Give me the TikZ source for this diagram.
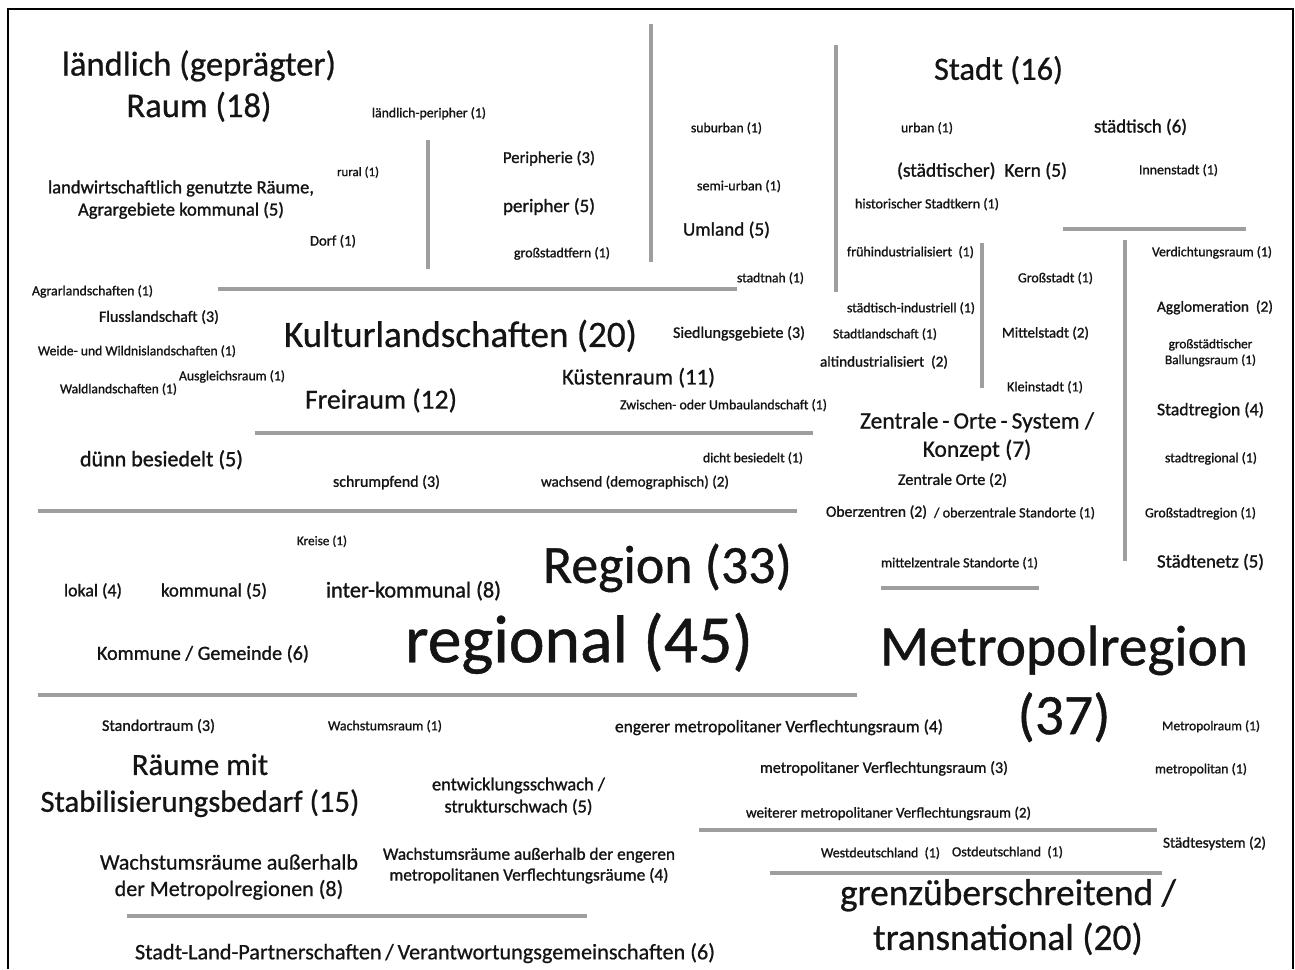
\documentclass[tikz,border=0pt]{standalone}
\usepackage{fontspec}
\setmainfont{Carlito}[FakeBold=0.7]
\newfontfamily\heavyface{Carlito}[FakeBold=1.2]
\usepackage{graphicx}
\definecolor{sepgray}{gray}{0.62}
\definecolor{ink}{gray}{0.08}
% term set to a given width (in px of the reference)
\newcommand{\fitw}[2]{\resizebox{#1pt}{!}{\fontsize{10}{12}\selectfont
  \begin{tabular}{@{}c@{}}#2\end{tabular}}}
% same, for the smaller (heavier looking) terms
\newcommand{\fitb}[2]{\resizebox{#1pt}{!}{\heavyface\fontsize{10}{12}\selectfont
  \begin{tabular}{@{}c@{}}#2\end{tabular}}}

\begin{document}
\begin{tikzpicture}[
    x=1pt, y=-1pt,
    term/.style={inner sep=0pt, outer sep=0pt, text=ink},
    sepline/.style={draw=sepgray, line width=3.5pt},
    frame/.style={draw=black, line width=2pt},
]
\useasboundingbox (0,0) rectangle (1295,969);
\fill[white] (0,0) rectangle (1295,969);
\draw[frame] (8,969) |- (1293,9) -- (1293,969);

% ---------------- separator lines ----------------------------------------
\draw[sepline] (428,140) -- (428,269);
\draw[sepline] (651,24) -- (651,262);
\draw[sepline] (836,45) -- (836,292);
\draw[sepline] (1063,229) -- (1246,229);
\draw[sepline] (982,243) -- (982,388);
\draw[sepline] (1125,240) -- (1125,561);
\draw[sepline] (218,289) -- (737,289);
\draw[sepline] (255,433) -- (813,433);
\draw[sepline] (38,511) -- (797,511);
\draw[sepline] (881,588) -- (1039,588);
\draw[sepline] (38,695) -- (857,695);
\draw[sepline] (699,830) -- (1157,830);
\draw[sepline] (770,873) -- (1162,873);
\draw[sepline] (127,916) -- (587,916);

% ---------------- rural / peripheral --------------------------------------
\node[term] (laendlich)  at (199,88)    {\fitw{274}{ländlich (geprägter)\\Raum (18)}};
\node[term] (lperipher)  at (429,114)   {\fitb{114}{ländlich-peripher (1)}};
\node[term] (rural)      at (358,173)   {\fitb{42}{rural (1)}};
\node[term] (agrar)      at (181,200)   {\fitb{266}{landwirtschaftlich genutzte Räume,\\Agrargebiete kommunal (5)}};
\node[term] (dorf)       at (333,242)   {\fitb{46}{Dorf (1)}};
\node[term] (peripherie) at (549,159)   {\fitb{92}{Peripherie (3)}};
\node[term] (peripher)   at (549,207.5) {\fitb{92}{peripher (5)}};
\node[term] (grossfern)  at (562,254)   {\fitb{96}{großstadtfern (1)}};
\node[term] (suburban)   at (726.5,129) {\fitb{71}{suburban (1)}};
\node[term] (semiurban)  at (739,187)   {\fitb{84}{semi-urban (1)}};
\node[term] (umland)     at (726.5,231) {\fitb{87}{Umland (5)}};
\node[term] (stadtnah)   at (770.5,279) {\fitb{67}{stadtnah (1)}};

% ---------------- city ----------------------------------------------------
\node[term] (stadt)      at (998.5,72)   {\fitw{129}{Stadt (16)}};
\node[term] (urban)      at (927,129)    {\fitb{52}{urban (1)}};
\node[term] (staedtisch) at (1140.5,128) {\fitb{93}{städtisch (6)}};
\node[term] (kern)       at (982,172)    {\fitb{170}{(städtischer)\ \ Kern (5)}};
\node[term] (innenstadt) at (1178.5,171) {\fitb{79}{Innenstadt (1)}};
\node[term] (histkern)   at (927,205)    {\fitb{144}{historischer Stadtkern (1)}};
\node[term] (fruehind)   at (910.5,253)  {\fitb{127}{frühindustrialisiert\ \ (1)}};
\node[term] (verdicht)   at (1212,253)   {\fitb{120}{Verdichtungsraum (1)}};
\node[term] (grossstadt) at (1055.5,279) {\fitb{75}{Großstadt (1)}};
\node[term] (staedtind)  at (911,309)    {\fitb{128}{städtisch-industriell (1)}};
\node[term] (agglo)      at (1215,308)   {\fitb{116}{Agglomeration\ \ (2)}};
\node[term] (stadtland)  at (885,335)    {\fitb{104}{Stadtlandschaft (1)}};
\node[term] (mittelstadt) at (1045.5,334) {\fitb{87}{Mittelstadt (2)}};
\node[term] (ballung)    at (1210.5,353) {\fitb{91}{großstädtischer\\Ballungsraum (1)}};
\node[term] (altind)     at (884,363)    {\fitb{128}{altindustrialisiert\ \ (2)}};
\node[term] (kleinstadt) at (1045,388)   {\fitb{76}{Kleinstadt (1)}};
\node[term] (stadtregion) at (1210.5,411) {\fitb{107}{Stadtregion (4)}};
\node[term] (zos)        at (977,437)    {\fitw{234}{Zentrale\,-\,Orte\,-\,System /\\Konzept (7)}};
\node[term] (stadtregional) at (1211,459) {\fitb{92}{stadtregional (1)}};
\node[term] (zorte)      at (952.5,481)  {\fitb{109}{Zentrale Orte (2)}};
\node[term] (oberz)      at (876.5,513)  {\fitb{101}{Oberzentren (2)}};
\node[term] (oberst)     at (1014.5,514) {\fitb{161}{/ oberzentrale Standorte (1)}};
\node[term] (grossregion) at (1200.5,514) {\fitb{111}{Großstadtregion (1)}};
\node[term] (mittelz)    at (959.5,564)  {\fitb{157}{mittelzentrale Standorte (1)}};
\node[term] (staedtenetz) at (1210.5,563) {\fitb{107}{Städtenetz (5)}};

% ---------------- landscapes ----------------------------------------------
\node[term] (agrarl)     at (92.5,292)  {\fitb{121}{Agrarlandschaften (1)}};
\node[term] (fluss)      at (159,318)   {\fitb{120}{Flusslandschaft (3)}};
\node[term] (kultur)     at (460.5,338) {\fitw{353}{Kulturlandschaften (20)}};
\node[term] (siedlung)   at (739,334)   {\fitb{132}{Siedlungsgebiete (3)}};
\node[term] (weide)      at (137,352)   {\fitb{198}{Weide- und Wildnislandschaften (1)}};
\node[term] (ausgleich)  at (232,377)   {\fitb{106}{Ausgleichsraum (1)}};
\node[term] (kueste)     at (638.5,379) {\fitw{153}{Küstenraum (11)}};
\node[term] (wald)       at (118.5,390) {\fitb{117}{Waldlandschaften (1)}};
\node[term] (freiraum)   at (381,402)   {\fitw{152}{Freiraum (12)}};
\node[term] (zwischen)   at (723.5,406) {\fitb{207}{Zwischen- oder Umbaulandschaft (1)}};

% ---------------- settlement density --------------------------------------
\node[term] (duenn)      at (161.5,461) {\fitb{163}{dünn besiedelt (5)}};
\node[term] (dicht)      at (753,459)   {\fitb{100}{dicht besiedelt (1)}};
\node[term] (schrumpf)   at (386.5,483) {\fitb{107}{schrumpfend (3)}};
\node[term] (wachsend)   at (635,483)   {\fitb{188}{wachsend (demographisch) (2)}};

% ---------------- region / scale ------------------------------------------
\node[term] (kreise)     at (322,542)   {\fitb{50}{Kreise (1)}};
\node[term] (region)     at (667.5,570) {\fitw{249}{Region (33)}};
\node[term] (lokal)      at (93,592)    {\fitb{58}{lokal (4)}};
\node[term] (kommunal)   at (214,592)   {\fitb{106}{kommunal (5)}};
\node[term] (interkomm)  at (413.5,592) {\fitb{175}{inter-kommunal (8)}};
\node[term] (regional)   at (579,646)   {\fitw{348}{regional (45)}};
\node[term] (kommune)    at (203,655)   {\fitb{212}{Kommune / Gemeinde (6)}};
\node[term] (metro)      at (1064,686)  {\fitw{368}{Metropolregion\\(37)}};

% ---------------- development / metropolitan ------------------------------
\node[term] (standort)   at (158.5,727) {\fitb{113}{Standortraum (3)}};
\node[term] (wachsraum)  at (385,727)   {\fitb{114}{Wachstumsraum (1)}};
\node[term] (engerer)    at (779,728)   {\fitb{328}{engerer metropolitaner Verflechtungsraum (4)}};
\node[term] (metroraum)  at (1211,727)  {\fitb{98}{Metropolraum (1)}};
\node[term] (stabil)     at (200,786)   {\fitw{319}{Räume mit\\Stabilisierungsbedarf (15)}};
\node[term] (entw)       at (518.5,797) {\fitb{173}{entwicklungsschwach /\\strukturschwach (5)}};
\node[term] (metroverfl) at (884,769)   {\fitb{248}{metropolitaner Verflechtungsraum (3)}};
\node[term] (metropolitan) at (1201,770) {\fitb{92}{metropolitan (1)}};
\node[term] (weiterer)   at (888.5,814) {\fitb{285}{weiterer metropolitaner Verflechtungsraum (2)}};
\node[term] (staedtesys) at (1214.5,844) {\fitb{103}{Städtesystem (2)}};
\node[term] (west)       at (880.5,854) {\fitb{119}{Westdeutschland\ \ (1)}};
\node[term] (ost)        at (1007.5,853) {\fitb{111}{Ostdeutschland\ \ (1)}};
\node[term] (wachsmetro) at (229,877.5) {\fitw{258}{Wachstumsräume außerhalb\\der Metropolregionen (8)}};
\node[term] (wachseng)   at (529,866)   {\fitb{292}{Wachstumsräume außerhalb der engeren\\metropolitanen Verflechtungsräume (4)}};
\node[term] (grenz)      at (1008,918.5) {\fitw{336}{grenzüberschreitend /\\transnational (20)}};
\node[term] (stadtlandp) at (425,954)   {\fitw{580}{Stadt-Land-Partnerschaften\,/\,Verantwortungsgemeinschaften (6)}};

\end{tikzpicture}
\end{document}
